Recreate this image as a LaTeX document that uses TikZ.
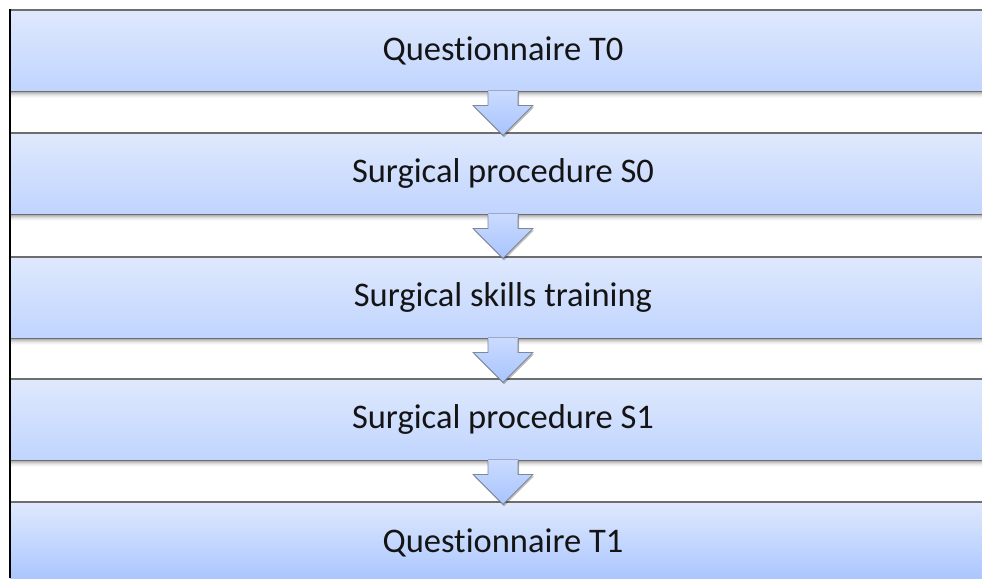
\documentclass[tikz,border=0pt]{standalone}
\usepackage{fontspec}
\setmainfont{Carlito}[Ligatures={NoCommon}]
\usetikzlibrary{calc,shadows}
\definecolor{boxtop}{HTML}{DFE9FD}
\definecolor{boxbot}{HTML}{C0D4FE}
\definecolor{lastbot}{HTML}{ABC6FE}
\definecolor{edgegray}{HTML}{6E6E6E}
\definecolor{arrtop}{HTML}{CADBFE}
\definecolor{arrbot}{HTML}{A8C3FE}
\definecolor{arredge}{HTML}{7D8796}
\definecolor{txt}{HTML}{141414}
\begin{document}
\begin{tikzpicture}[x=1pt,y=-1pt,
  stage/.style={rectangle, minimum width=972pt, minimum height=81pt,
    anchor=north west, inner sep=0pt, top color=boxtop, bottom color=boxbot},
  stagetext/.style={font=\fontsize{34.5}{40}\selectfont, text=txt, inner sep=0pt},
  edgeline/.style={draw=edgegray, line width=1.6pt},
  arrowfill/.style={top color=arrtop, bottom color=arrbot,
    drop shadow={shadow xshift=1pt, shadow yshift=-2pt, opacity=0.25, fill=black}},
  arrowline/.style={draw=arredge, line width=0.8pt, line join=miter}
]
\useasboundingbox (0,0) rectangle (982,578);
\fill[white] (0,0) rectangle (982,578);

% boxes
\node[stage] (b1) at (10,10) {};
\node[stage] (b2) at (10,133) {};
\node[stage] (b3) at (10,257) {};
\node[stage] (b4) at (10,379) {};
\node[stage, minimum height=76pt, bottom color=lastbot] (b5) at (10,502) {};

\node[stagetext] (t1) at (503,50.5) {Questionnaire T0};
\node[stagetext] (t2) at (503,173.5) {Surgical procedure S0};
\node[stagetext] (t3) at (503,297.5) {Surgical skills training};
\node[stagetext] (t4) at (503,419.5) {Surgical procedure S1};
\node[stagetext] (t5) at (503,542.5) {Questionnaire T1};

% edges and shadows
\foreach \b in {b1,b2,b3,b4,b5}{
  \draw[edgeline] (\b.north west) -- (\b.north east);
}
\foreach \b in {b1,b2,b3,b4}{
  \foreach \k/\op in {1/0.30,2/0.22,3/0.15,4/0.09,5/0.05,6/0.02}{
    \draw[black, opacity=\op, line width=1pt] ($(\b.south west)+(0,\k)$) -- ($(\b.south east)+(0,\k)$);
  }
  \draw[edgeline] (\b.south west) -- (\b.south east);
}

% arrows
\foreach \b in {b1,b2,b3,b4}{
  \coordinate (s) at ($(\b.south west)+(493,0)$);
  \fill[arrowfill] ($(s)+(-15,-1)$) -- ($(s)+(15,-1)$) -- ($(s)+(15,14)$) -- ($(s)+(30,14)$)
     -- ($(s)+(0,44)$) -- ($(s)+(-30,14)$) -- ($(s)+(-15,14)$) -- cycle;
  \draw[arrowline] ($(s)+(-15,0.8)$) -- ($(s)+(-15,14)$) -- ($(s)+(-30,14)$) -- ($(s)+(0,44)$)
     -- ($(s)+(30,14)$) -- ($(s)+(15,14)$) -- ($(s)+(15,0.8)$);
}

% left border
\draw[black, line width=1.3pt] (10,9) -- (10,578);
\end{tikzpicture}
\end{document}
